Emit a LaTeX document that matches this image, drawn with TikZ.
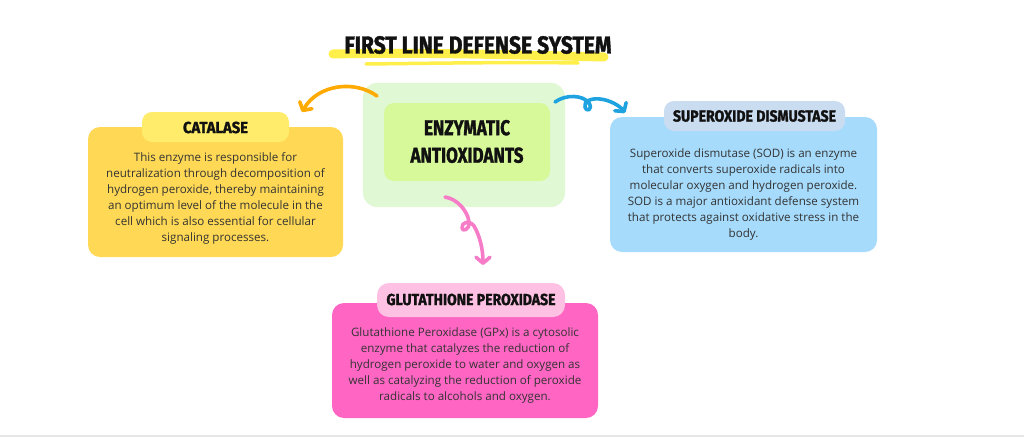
\documentclass[tikz,border=0pt]{standalone}
\usepackage{fontspec}
\setmainfont{Open Sans}
\newfontfamily\hfont{Fira Sans}[BoldFeatures={FakeBold=1.6}]
\usetikzlibrary{arrows.meta}
\definecolor{catbox}{HTML}{FFD955}
\definecolor{catpill}{HTML}{FFEC6A}
\definecolor{sodbox}{HTML}{A6DBFC}
\definecolor{sodpill}{HTML}{CADCF0}
\definecolor{gpxbox}{HTML}{FF66C4}
\definecolor{gpxpill}{HTML}{FFC1E3}
\definecolor{outergreen}{HTML}{E1F8D5}
\definecolor{innergreen}{HTML}{D8F99A}
\definecolor{orangearr}{HTML}{FFAA00}
\definecolor{bluearr}{HTML}{1EA3E0}
\definecolor{pinkarr}{HTML}{F77CC8}
\definecolor{hilite}{HTML}{FFEF4A}
\definecolor{bodytext}{HTML}{333333}
\definecolor{headtext}{HTML}{111111}
\definecolor{rule}{HTML}{E6E6E6}
\newcommand\hw[2]{\resizebox{#1pt}{\height}{#2}}
\tikzset{
  card/.style={rounded corners=12pt, inner sep=0pt, draw=none},
  pill/.style={rounded corners=10pt, inner sep=0pt, draw=none},
  body/.style={align=center, inner sep=0pt, text=bodytext, font=\fontsize{11.6}{16}\selectfont},
  head/.style={inner sep=0pt, text=headtext, font=\hfont\bfseries\fontsize{#1}{#1}\selectfont},
  swirl/.style={line width=3.6pt, line cap=round, line join=round, -{Straight Barb[length=6pt,width=14pt,round]}},
}
\begin{document}
\begin{tikzpicture}[x=1pt,y=-1pt]
\useasboundingbox (0,0) rectangle (1024,437);
\fill[white] (0,0) rectangle (1024,437);
\fill[rule] (0,434.5) rectangle (1024,437);

% title highlight
\draw[hilite, line width=9pt, line cap=round] (333,54) .. controls (420,52) and (520,55) .. (604,57);
\draw[hilite, line width=3.5pt, line cap=round] (366,64) .. controls (450,63) and (520,62) .. (578,63);
\node[head=24.5] (title) at (478,45) {\hw{267}{FIRST LINE DEFENSE SYSTEM}};

% central
\node[card, fill=outergreen, minimum width=202pt, minimum height=124pt, rounded corners=14pt] (outer) at (464,145) {};
\node[card, fill=innergreen, minimum width=166pt, minimum height=78pt, rounded corners=10pt] (inner) at (467,142) {};
\node[head=21.5, align=center] (central) at (467,141.5) {\hw{86}{ENZYMATIC}\\[6pt]\hw{113}{ANTIOXIDANTS}};

% catalase
\node[card, fill=catbox, minimum width=255pt, minimum height=130pt] (catbox) at (215.5,192) {};
\node[pill, fill=catpill, minimum width=147pt, minimum height=30pt] (catpill) at (215.5,127) {};
\node[head=16] (cathead) at (215.5,127.5) {\hw{65}{CATALASE}};
\node[body] (cattext) at (215.5,198.5) {This enzyme is responsible for\\neutralization through decomposition of\\hydrogen peroxide, thereby maintaining\\an optimum level of the molecule in the\\cell which is also essential for cellular\\signaling processes.};

% SOD
\node[card, fill=sodbox, minimum width=267pt, minimum height=135pt] (sodbox) at (743.5,184.5) {};
\node[pill, fill=sodpill, minimum width=181pt, minimum height=30pt] (sodpill) at (754.5,116) {};
\node[head=16] (sodhead) at (754.5,116) {\hw{163}{SUPEROXIDE DISMUSTASE}};
\node[body] (sodtext) at (743.5,194) {Superoxide dismutase (SOD) is an enzyme\\that converts superoxide radicals into\\molecular oxygen and hydrogen peroxide.\\SOD is a major antioxidant defense system\\that protects against oxidative stress in the\\body.};

% GPx
\node[card, fill=gpxbox, minimum width=266pt, minimum height=115pt] (gpxbox) at (465,360.5) {};
\node[pill, fill=gpxpill, minimum width=188pt, minimum height=34pt, rounded corners=12pt] (gpxpill) at (471,300) {};
\node[head=16] (gpxhead) at (471,299.5) {\hw{169}{GLUTATHIONE PEROXIDASE}};
\node[body] (gpxtext) at (465,365) {Glutathione Peroxidase (GPx) is a cytosolic\\enzyme that catalyzes the reduction of\\hydrogen peroxide to water and oxygen as\\well as catalyzing the reduction of peroxide\\radicals to alcohols and oxygen.};

% connectors
\coordinate (oS) at (377,96);
\coordinate (oE) at (302,112);
\draw[swirl, orangearr] (oS) .. controls (355,80) and (318,84) .. (oE);

\coordinate (bS) at (555,102);
\coordinate (bE) at (625,113);
\draw[swirl, bluearr] (bS) .. controls (566,94) and (583,95) .. (589,103)
  .. controls (593,109) and (587,113) .. (585,107)
  .. controls (583,101) and (592,98) .. (600,99)
  .. controls (610,100) and (620,106) .. (bE);

\coordinate (pS) at (445,197);
\coordinate (pE) at (483,265);
\draw[swirl, pinkarr] (pS) .. controls (458,199) and (468,212) .. (469,222)
  .. controls (470,230) and (462,232) .. (462,228)
  .. controls (461,222) and (470,220) .. (474,226)
  .. controls (480,236) and (483,250) .. (pE);
\end{tikzpicture}
\end{document}
